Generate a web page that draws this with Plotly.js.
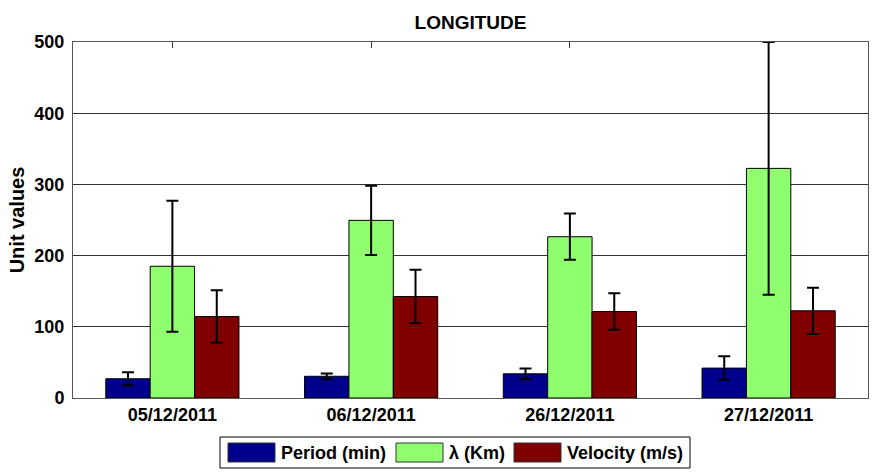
<!DOCTYPE html>
<html>
<head>
<meta charset="utf-8">
<script src="https://cdn.plot.ly/plotly-3.0.1.min.js"></script>
<style>
  html, body { margin: 0; padding: 0; background: #ffffff; }
  #chart { width: 873px; height: 472px; }
</style>
</head>
<body>
<div id="chart"></div>
<script>
// Campaign dates
const categories = ['05/12/2011', '06/12/2011', '26/12/2011', '27/12/2011'];

// Mean values and standard deviations per date
const periodMin   = [27, 30.5, 34, 42];
const periodErr   = [9, 4, 7.5, 16.5];
const lambdaKm    = [185, 249.5, 226.5, 322.5];
const lambdaErr   = [92, 48.5, 32.5, 177.5];
const velocityMs  = [114.5, 142.5, 121.5, 122.5];
const velocityErr = [37, 37.5, 25.5, 32.5];

const seriesNames = ['Period (min)', '\u03bb (Km)', 'Velocity (m/s)'];
const yTickValues = [0, 100, 200, 300, 400, 500];

const colors = ['#00008c', '#8fff6f', '#800000'];
const FONT = 'Arial, "Liberation Sans", Helvetica, sans-serif';

function barTrace(name, y, err, color) {
  return {
    type: 'bar',
    name: name,
    x: categories,
    y: y,
    marker: { color: color, line: { color: '#000000', width: 1 } },
    error_y: { type: 'data', array: err, visible: true, color: '#000000', thickness: 2, width: 6 },
    showlegend: false,
    hoverinfo: 'x+y+name'
  };
}

const data = [
  barTrace(seriesNames[0], periodMin, periodErr, colors[0]),
  barTrace(seriesNames[1], lambdaKm, lambdaErr, colors[1]),
  barTrace(seriesNames[2], velocityMs, velocityErr, colors[2])
];

// Plot area in pixels
const W = 873, H = 472;
const M = { l: 73, r: 5, t: 42, b: 74 };
const plotW = W - M.l - M.r, plotH = H - M.t - M.b;
const px = v => (v - M.l) / plotW;          // pixel x -> paper x
const py = v => (H - M.b - v) / plotH;      // pixel y -> paper y

// Boxed legend below the axes, with wide colour swatches
const legendBox = { x0: 220, x1: 690, y0: 437, y1: 468 };
const swatchX = [228, 396, 514];
const swatchW = 47;
const swatchY = [443, 462];

const shapes = [{
  type: 'rect', xref: 'paper', yref: 'paper', layer: 'above',
  x0: px(legendBox.x0), x1: px(legendBox.x1), y0: py(legendBox.y1), y1: py(legendBox.y0),
  line: { color: '#000000', width: 1 }, fillcolor: '#ffffff'
}];
const annotations = [];
seriesNames.forEach((name, i) => {
  shapes.push({
    type: 'rect', xref: 'paper', yref: 'paper', layer: 'above',
    x0: px(swatchX[i]), x1: px(swatchX[i] + swatchW), y0: py(swatchY[1]), y1: py(swatchY[0]),
    line: { color: '#333333', width: 1 }, fillcolor: colors[i]
  });
  annotations.push({
    xref: 'paper', yref: 'paper', x: px(swatchX[i] + swatchW + 4), y: py(452.5),
    xanchor: 'left', yanchor: 'middle', showarrow: false, text: '<b>' + name + '</b>',
    font: { family: FONT, size: 18, color: '#000000' }
  });
});

const layout = {
  width: W, height: H,
  margin: M,
  paper_bgcolor: '#ffffff', plot_bgcolor: '#ffffff',
  font: { family: FONT, color: '#000000' },
  title: {
    text: '<b>LONGITUDE</b>',
    x: px(470.5), xref: 'paper', xanchor: 'center',
    y: 1 - 22 / H, yref: 'container', yanchor: 'middle',
    font: { family: FONT, size: 19, color: '#000000' }
  },
  barmode: 'group',
  bargap: 0.33,
  bargroupgap: 0,
  xaxis: {
    type: 'category',
    range: [-0.5, 3.5],
    showline: true, linecolor: '#555555', linewidth: 1, mirror: 'ticks',
    ticks: 'inside', ticklen: 6, tickcolor: '#333333',
    showgrid: false, zeroline: false,
    layer: 'below traces',
    tickfont: { family: FONT, size: 18, color: '#000000', weight: 'bold' }
  },
  yaxis: {
    range: [0, 500],
    tickvals: yTickValues,
    ticktext: yTickValues.map(String),
    showline: true, linecolor: '#555555', linewidth: 1, mirror: 'ticks',
    ticks: 'inside', ticklen: 6, tickcolor: '#333333',
    showgrid: true, gridcolor: '#333333', gridwidth: 1,
    zeroline: false,
    layer: 'below traces',
    ticklabelstandoff: 4,
    tickfont: { family: FONT, size: 18, color: '#000000', weight: 'bold' },
    title: { text: '<b>Unit values</b>', standoff: 4, font: { family: FONT, size: 20, color: '#000000' } }
  },
  shapes: shapes,
  annotations: annotations
};

Plotly.newPlot('chart', data, layout, { displayModeBar: false, staticPlot: true });
</script>
</body>
</html>
